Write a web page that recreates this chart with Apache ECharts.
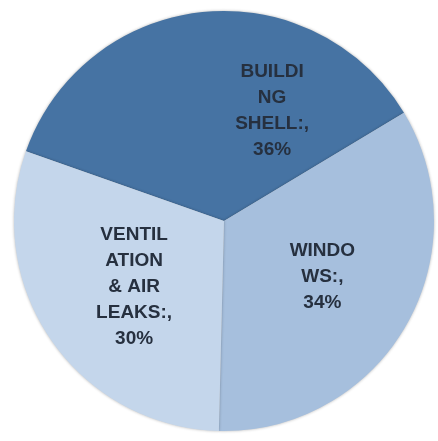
<!DOCTYPE html>
<html>
<head>
<meta charset="utf-8">
<script src="https://cdn.jsdelivr.net/npm/echarts@6/dist/echarts.min.js"></script>
<style>
  html, body { margin: 0; padding: 0; background: #fff; }
  #main { width: 438px; height: 441px; }
</style>
</head>
<body>
<div id="main"></div>
<script>
// data
let categories = ['BUILDING SHELL', 'WINDOWS', 'VENTILATION & AIR LEAKS']
let labelText = ['BUILDI\nNG\nSHELL:,', 'WINDO\nWS:,', 'VENTIL\nATION\n& AIR\nLEAKS:,']
let values = [36, 34, 30]
let colors = ['#4673a3', '#a6bfdd', '#c4d6eb']

window.addEventListener('load', function () {
  let pie = echarts.init(document.getElementById('main'))
  let option = {
    animation: false,
    series: [{
      type: 'pie',
      center: [224, 221],
      radius: 210,
      startAngle: 160.6,
      clockwise: true,
      data: categories.map(function (c, i) {
        return { name: c, value: values[i], itemStyle: { color: colors[i] } }
      }),
      itemStyle: {
        borderWidth: 0,
        shadowBlur: 3,
        shadowColor: 'rgba(0,0,0,0.3)'
      },
      label: {
        position: 'inside',
        color: '#26303f',
        fontFamily: 'Liberation Sans, Arial, sans-serif',
        fontSize: 19,
        fontWeight: 'bold',
        lineHeight: 26,
        align: 'center',
        formatter: function (p) {
          return labelText[p.dataIndex] + '\n' + p.value + '%'
        }
      },
      labelLayout: function (p) {
        // excel put the top label off to the right
        if (p.dataIndex === 0) return { dx: 59, dy: -3 }
        if (p.dataIndex === 1) return { dx: 5, dy: 1 }
        return { dx: -1, dy: 4 }
      },
      emphasis: { disabled: true }
    }]
  }
  pie.setOption(option)
})
</script>
</body>
</html>
